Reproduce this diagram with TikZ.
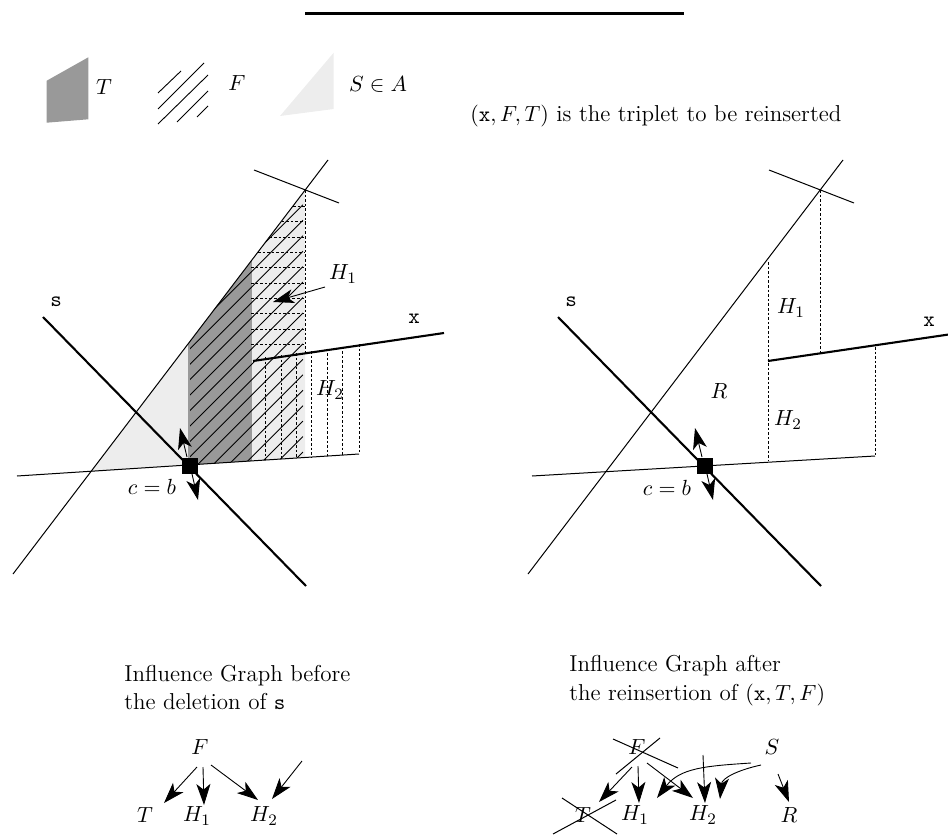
\documentclass[tikz,border=0pt]{standalone}
\usetikzlibrary{arrows.meta}
\definecolor{darkfill}{gray}{0.6}
\definecolor{lightfill}{gray}{0.93}
\newcommand{\mathsized}[1]{{\fontsize{10.8}{13}\selectfont$#1$}}
\tikzset{
  thinline/.style={line width=0.5pt,black},
  thickline/.style={line width=1.05pt,black},
  dashline/.style={line width=0.4pt,black,dash pattern=on 1.3pt off 1pt},
  hatchline/.style={line width=0.45pt,black},
  kite/.style={line width=0.45pt,black,-{Stealth[length=10.5pt,width=7pt,inset=2.8pt]}},
  lbl/.style={inner sep=0pt,font=\fontsize{11}{13}\selectfont},
  para/.style={inner sep=0pt,anchor=west,font=\fontsize{11.5}{13}\selectfont},
}
\begin{document}
\begin{tikzpicture}[x=0.5pt,y=-0.5pt]
\useasboundingbox (0,0) rectangle (948,835);
% top rule
\coordinate (ruleA) at (305,13); \coordinate (ruleB) at (684,13);
\draw[line width=1.5pt] (ruleA) -- (ruleB);
% legend
\fill[darkfill] (46.7,80.7) -- (88.3,57.3) -- (88.3,119.3) -- (46.7,122.7) -- cycle;
\node[lbl] (legT) at (104,87) {$T$};
\draw[hatchline] (158,93) -- (181,71) (158,109) -- (204,63) (158,124) -- (208,75) (177,122) -- (208,91) (197,117) -- (208,106);
\node[lbl] (legF) at (237,83) {$F$};
\fill[lightfill] (280,116) -- (333.7,52.7) -- (333.7,109) -- cycle;
\node[lbl] (legS) at (378,84) {$S\in A$};
\node[para] (caption) at (470,116) {\mathsized{(\mathtt{x},F,T)} is the triplet to be reinserted};
% left figure: fills
\fill[lightfill] (90,472) -- (188,344) -- (188,465) -- cycle;
\fill[darkfill] (188,344) -- (252,260) -- (252,461) -- (188,465) -- cycle;
\fill[lightfill] (252,260) -- (305,190) -- (305,457.6) -- (252,461) -- cycle;
% left figure: hatching
\begin{scope}
\clip (190,341) -- (303,193) -- (303,470) -- (190,470) -- cycle;
\clip (0,477.1) -- (359,454) -- (359,0) -- (0,0) -- cycle;
\foreach \yr in {0,...,18} {
  \draw[hatchline] (303,{452-15.45*\yr}) -- ++(-200,200);
}
\end{scope}
% left figure: dashed
\foreach \yy/\xx in {206/293,221/281.6,237/269.4,252/258,267/251,283/251,298/251,313/251,329/251,344/251} {
  \draw[dashline] (\xx,\yy) -- (305,\yy);
}
\draw[dashline] (305,190) -- (305,353.4);
\foreach \xx/\yt/\yb in {265.7/357/460,281/355/459,296.3/353/458,311.7/351/457,327/348.5/456,342.3/346.5/455,359/344/454} {
  \draw[dashline] (\xx,\yt) -- (\xx,\yb);
}
% left figure: lines
\coordinate (La) at (13,574); \coordinate (Lb) at (328,160);
\coordinate (Lc) at (254,170); \coordinate (Ld) at (339,203);
\coordinate (Le) at (17,476); \coordinate (Lf) at (359,454);
\coordinate (Lg) at (43,317); \coordinate (Lh) at (306,586);
\coordinate (Li) at (253,361); \coordinate (Lj) at (444,333);
\draw[thinline] (La) -- (Lb);
\draw[thinline] (Lc) -- (Ld);
\draw[thinline] (Le) -- (Lf);
\draw[thickline] (Lg) -- (Lh);
\draw[thickline] (Li) -- (Lj);
\node[fill=black,minimum size=8pt,inner sep=0pt] (Lsq) at (190,466) {};
\coordinate (Lu0) at (187,457); \coordinate (Lu1) at (180,428);
\coordinate (Ld0) at (192,474); \coordinate (Ld1) at (198,500);
\draw[kite] (Lu0) -- (Lu1);
\draw[kite] (Ld0) -- (Ld1);
\coordinate (Lh0) at (325,287); \coordinate (Lh1) at (273,302);
\draw[kite] (Lh0) -- (Lh1);
\node[lbl] (LH1) at (343,274) {$H_1$};
\node[lbl] (LH2) at (330,390) {$H_2$};
\node[lbl] (Ls) at (56,302) {$\mathtt{s}$};
\node[lbl] (Lx) at (414,319) {$\mathtt{x}$};
\node[lbl] (Lcb) at (152,487) {$c=b$};
% right figure
\coordinate (Ra) at (528,574); \coordinate (Rb) at (843,160);
\coordinate (Rc) at (769,170); \coordinate (Rd) at (854,203);
\coordinate (Re) at (532,476); \coordinate (Rf) at (875,456);
\coordinate (Rg) at (558,317); \coordinate (Rh) at (821,586);
\coordinate (Ri) at (768,361); \coordinate (Rj) at (948,334.6);
\draw[thinline] (Ra) -- (Rb);
\draw[thinline] (Rc) -- (Rd);
\draw[thinline] (Re) -- (Rf);
\draw[thickline] (Rg) -- (Rh);
\draw[thickline] (Ri) -- (Rj);
\draw[dashline] (820,190) -- (820,353.4);
\draw[dashline] (768,262) -- (768,461);
\draw[dashline] (875,347) -- (875,456);
\node[fill=black,minimum size=8pt,inner sep=0pt] (Rsq) at (705,466) {};
\coordinate (Ru0) at (702,457); \coordinate (Ru1) at (695,428);
\coordinate (Rd0) at (707,474); \coordinate (Rd1) at (713,500);
\draw[kite] (Ru0) -- (Ru1);
\draw[kite] (Rd0) -- (Rd1);
\node[lbl] (RH1) at (791,308) {$H_1$};
\node[lbl] (RH2) at (788,420) {$H_2$};
\node[lbl] (RR) at (719,391) {$R$};
\node[lbl] (Rs) at (571,302) {$\mathtt{s}$};
\node[lbl] (Rx) at (929,322) {$\mathtt{x}$};
\node[lbl] (Rcb) at (667,488) {$c=b$};
% headings
\node[para] (h1a) at (124,676) {Influence Graph before};
\node[para] (h1b) at (124,702) {the deletion of \mathsized{\mathtt{s}}};
\node[para] (h2a) at (569,666) {Influence Graph after};
\node[para] (h2b) at (569,695) {the reinsertion of \mathsized{(\mathtt{x},T,F)}};
% left graph
\node[lbl] (gF) at (200,747) {$F$};
\node[lbl] (gT) at (145,815) {$T$};
\node[lbl] (gH1) at (197,816) {$H_1$};
\node[lbl] (gH2) at (264,816) {$H_2$};
\coordinate (g1a) at (197,767); \coordinate (g1b) at (164,803);
\coordinate (g2a) at (203,767); \coordinate (g2b) at (204,805);
\coordinate (g3a) at (211,765); \coordinate (g3b) at (258,800);
\coordinate (g4a) at (302,761); \coordinate (g4b) at (272,799);
\draw[kite] (g1a) -- (g1b);
\draw[kite] (g2a) -- (g2b);
\draw[kite] (g3a) -- (g3b);
\draw[kite] (g4a) -- (g4b);
% right graph
\node[lbl] (kF) at (637,747) {$F$};
\node[lbl] (kS) at (772,747) {$S$};
\node[lbl] (kT) at (583,815) {$T$};
\node[lbl] (kH1) at (635,815) {$H_1$};
\node[lbl] (kH2) at (703,815) {$H_2$};
\node[lbl] (kR) at (789,815) {$R$};
\coordinate (x1a) at (613,739); \coordinate (x1b) at (678,768);
\coordinate (x2a) at (660,738); \coordinate (x2b) at (616,774);
\coordinate (x3a) at (562,798); \coordinate (x3b) at (617,834);
\coordinate (x4a) at (616,800); \coordinate (x4b) at (553,834);
\draw[thinline] (x1a) -- (x1b);
\draw[thinline] (x2a) -- (x2b);
\draw[thinline] (x3a) -- (x3b);
\draw[thinline] (x4a) -- (x4b);
\coordinate (k1a) at (632,767); \coordinate (k1b) at (599,802);
\coordinate (k2a) at (638,766); \coordinate (k2b) at (639,803);
\coordinate (k3a) at (647,763); \coordinate (k3b) at (693,798);
\coordinate (k4a) at (703,755); \coordinate (k4b) at (705,803);
\coordinate (k5a) at (751,763); \coordinate (k5b) at (657,798);
\coordinate (k6a) at (761,765); \coordinate (k6b) at (720,799);
\coordinate (k7a) at (778,774); \coordinate (k7b) at (789,802);
\draw[kite] (k1a) -- (k1b);
\draw[kite] (k2a) -- (k2b);
\draw[kite] (k3a) -- (k3b);
\draw[kite] (k4a) -- (k4b);
\draw[kite] (k5a) .. controls (705,766) and (680,768) .. (k5b);
\draw[kite] (k6a) .. controls (738,770) and (722,778) .. (k6b);
\draw[kite] (k7a) -- (k7b);
\end{tikzpicture}
\end{document}
